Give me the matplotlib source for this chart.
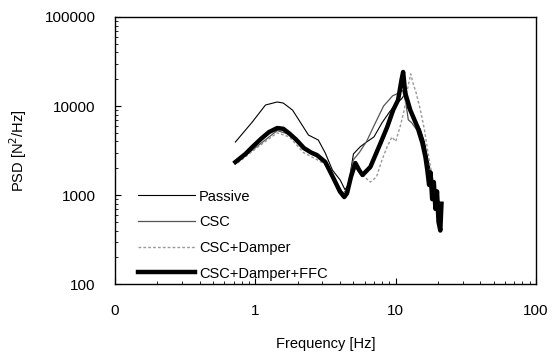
import numpy as np
import matplotlib
matplotlib.use("Agg")
import matplotlib.pyplot as plt
from matplotlib.ticker import FixedLocator, FixedFormatter, LogLocator, NullFormatter

plt.rcParams['font.family'] = ['Liberation Sans', 'DejaVu Sans']

# PSD curves (frequency in Hz, PSD in N^2/Hz)
f_passive = [0.72, 0.95, 1.18, 1.43, 1.58, 1.84, 2.1, 2.39, 2.81, 3.15, 3.54, 4.03, 4.35, 4.6,
             5.0, 5.6, 6.0, 7.0, 8.0, 9.0, 10.0, 11.0, 11.6, 12.2, 13.0, 14.0, 15.0, 16.0,
             17.0, 18.0, 19.0, 20.0, 21.0]
p_passive = [3940, 6610, 10260, 11100, 10800, 9000, 6500, 4720, 4150, 2960, 1910, 1470, 1150, 1300,
             2900, 3500, 3800, 4500, 6500, 8500, 10500, 12000, 13500, 9500, 8000, 6500, 5500, 4000,
             2500, 1600, 1100, 800, 600]

f_csc = [0.75, 1.0, 1.43, 1.75, 2.2, 2.75, 3.15, 3.6, 4.2, 4.5, 5.0, 5.5, 6.2, 7.0, 8.2, 9.5,
         10.5, 11.2, 11.8, 12.3, 13.0, 14.0, 15.0, 16.0, 17.0, 18.0, 19.0, 20.0]
p_csc = [2400, 3400, 5300, 4800, 3300, 2700, 2300, 1600, 1050, 1150, 2500, 3000, 4000, 6000, 10000, 13000,
         14000, 15000, 11000, 7000, 6500, 5500, 5000, 3500, 2000, 1400, 1000, 800]

f_damper = [0.75, 1.0, 1.43, 1.75, 2.2, 2.75, 3.15, 3.6, 4.2, 4.5, 5.0, 5.5, 6.0, 6.6, 7.3, 8.0,
            8.7, 9.4, 10.0, 10.8, 11.5, 12.2, 12.8, 13.3, 14.0, 15.0, 16.0, 17.0, 18.0, 19.0,
            20.0, 21.0]
p_damper = [2300, 3300, 5000, 4500, 3000, 2500, 2200, 1500, 1000, 1100, 2000, 1900, 1600, 1400, 1600, 2500,
            3500, 4500, 4000, 6000, 9000, 16000, 23000, 18000, 14000, 9000, 5500, 3000, 1800, 1200,
            800, 600]

f_ffc = [0.72, 0.85, 0.95, 1.1, 1.25, 1.43, 1.58, 1.75, 1.95, 2.22, 2.5, 2.75, 3.15, 3.57, 4.0,
         4.3, 4.5, 4.8, 5.16, 5.5, 5.8, 6.6, 7.8, 8.7, 9.6, 10.4, 11.0, 11.3, 11.7, 12.7, 14.3,
         15.5, 16.3, 16.8, 17.3, 17.7, 18.2, 18.7, 19.2, 19.7, 20.2, 20.8, 21.2]
p_ffc = [2350, 2900, 3460, 4300, 5100, 5660, 5550, 4900, 4200, 3370, 3000, 2810, 2350, 1590, 1100,
         950, 1050, 1600, 2290, 1900, 1680, 2070, 3840, 5810, 9020, 11680, 19600, 24100, 14000, 9020, 5810,
         3840, 2670, 1910, 1300, 1800, 900, 1400, 700, 1100, 500, 400, 800]

xticks = [0.1, 1, 10, 100]
xlabels = ["0", "1", "10", "100"]
yticks = [100, 1000, 10000, 100000]
ylabels = ["100", "1000", "10000", "100000"]

fig = plt.figure(figsize=(5.56, 3.53), dpi=100)
ax = fig.add_axes([0.207, 0.195, 0.757, 0.757])

ax.plot(f_passive, p_passive, color='black', lw=0.8, label='Passive')
ax.plot(f_csc, p_csc, color='#555555', lw=0.9, label='CSC')
ax.plot(f_damper, p_damper, color='#999999', lw=1.0, ls=(0, (2, 1.5)), label='CSC+Damper')
ax.plot(f_ffc, p_ffc, color='black', lw=3.2, label='CSC+Damper+FFC')

ax.set_xscale('log')
ax.set_yscale('log')
ax.set_xlim(0.1, 100)
ax.set_ylim(100, 100000)

ax.xaxis.set_major_locator(FixedLocator(xticks))
ax.xaxis.set_major_formatter(FixedFormatter(xlabels))
ax.yaxis.set_major_locator(FixedLocator(yticks))
ax.yaxis.set_major_formatter(FixedFormatter(ylabels))
ax.xaxis.set_minor_locator(LogLocator(base=10, subs=np.arange(2, 10)))
ax.yaxis.set_minor_locator(LogLocator(base=10, subs=np.arange(2, 10)))
ax.xaxis.set_minor_formatter(NullFormatter())
ax.yaxis.set_minor_formatter(NullFormatter())

ax.tick_params(which='both', direction='in', labelsize=11)
ax.tick_params(which='major', length=4, width=0.8)
ax.tick_params(which='minor', length=2.5, width=0.6)
ax.tick_params(axis='x', pad=14)
ax.tick_params(axis='y', pad=14)
for s in ax.spines.values():
    s.set_linewidth(1.0)

ax.set_xlabel('Frequency [Hz]', fontsize=10.5, labelpad=14)
ax.set_ylabel('PSD [N$^2$/Hz]', fontsize=10.5, labelpad=11)

ax.legend(loc='lower left', bbox_to_anchor=(0.026, -0.03), frameon=False, fontsize=10.5,
          handlelength=3.9, handletextpad=0.3, labelspacing=0.8, borderaxespad=0.4)

fig.savefig('out.png', dpi=100)
